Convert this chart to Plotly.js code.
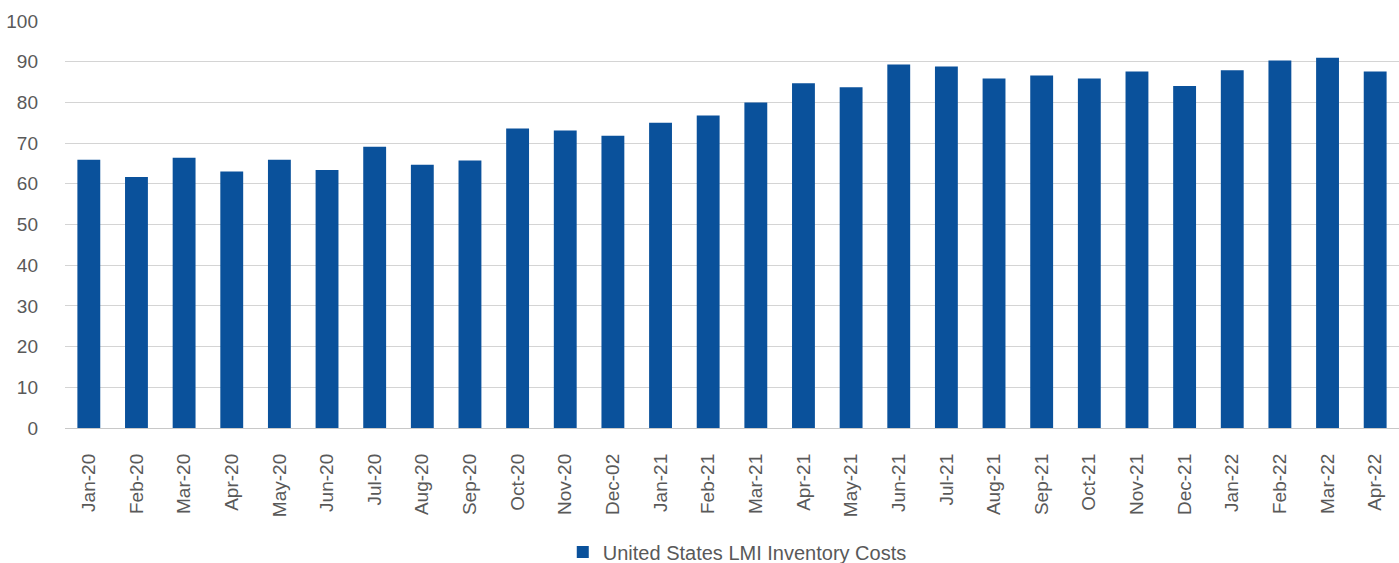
<!DOCTYPE html>
<html>
<head>
<meta charset="utf-8">
<script src="https://cdn.plot.ly/plotly-3.0.1.min.js"></script>
<style>html,body{margin:0;padding:0;background:#fff;}#chart{width:1399px;height:563px;}</style>
</head>
<body>
<div id="chart"></div>
<script>
const categories = ["Jan-20","Feb-20","Mar-20","Apr-20","May-20","Jun-20","Jul-20","Aug-20","Sep-20","Oct-20","Nov-20","Dec-02","Jan-21","Feb-21","Mar-21","Apr-21","May-21","Jun-21","Jul-21","Aug-21","Sep-21","Oct-21","Nov-21","Dec-21","Jan-22","Feb-22","Mar-22","Apr-22"];
const values = [65.9,61.7,66.4,63.0,65.9,63.4,69.1,64.7,65.7,73.6,73.1,71.8,75.0,76.8,80.0,84.7,83.7,89.3,88.8,85.9,86.6,85.9,87.6,84.0,87.9,90.3,91.0,87.6];
const seriesName = "United States LMI Inventory Costs";
const yTicks = [0,10,20,30,40,50,60,70,80,90,100];

const font = "Liberation Sans, Arial, sans-serif";
Plotly.newPlot("chart", [{
  type: "bar",
  x: categories,
  y: values,
  name: seriesName,
  marker: {color: "#0A519B"},
  showlegend: true,
  hoverinfo: "x+y"
}], {
  width: 1399, height: 563,
  margin: {l: 65, r: 0, t: 21, b: 135},
  paper_bgcolor: "#fff", plot_bgcolor: "#fff",
  bargap: 0.52,
  font: {family: font, color: "#595959", size: 19},
  xaxis: {
    type: "category",
    tickangle: -90,
    tickfont: {size: 19, color: "#595959", family: font},
    showgrid: false,
    showline: false,
    ticks: "",
    ticklabelstandoff: 21,
    zeroline: false
  },
  yaxis: {
    range: [0, 100],
    tickvals: yTicks,
    ticktext: yTicks.map(String),
    showgrid: true,
    gridcolor: "#d4d4d4",
    gridwidth: 1,
    zeroline: true,
    zerolinecolor: "#c8c8c8",
    zerolinewidth: 1,
    tickfont: {size: 19, color: "#595959", family: font},
    ticklabelstandoff: 26,
    ticks: "",
    showline: false
  },
  legend: {
    orientation: "h",
    x: 0.527, xanchor: "center", xref: "container",
    y: 0.0195, yanchor: "middle", yref: "container",
    font: {size: 20, color: "#595959", family: font}
  },
  showlegend: true
}, {displayModeBar: false, staticPlot: true});
</script>
</body>
</html>
